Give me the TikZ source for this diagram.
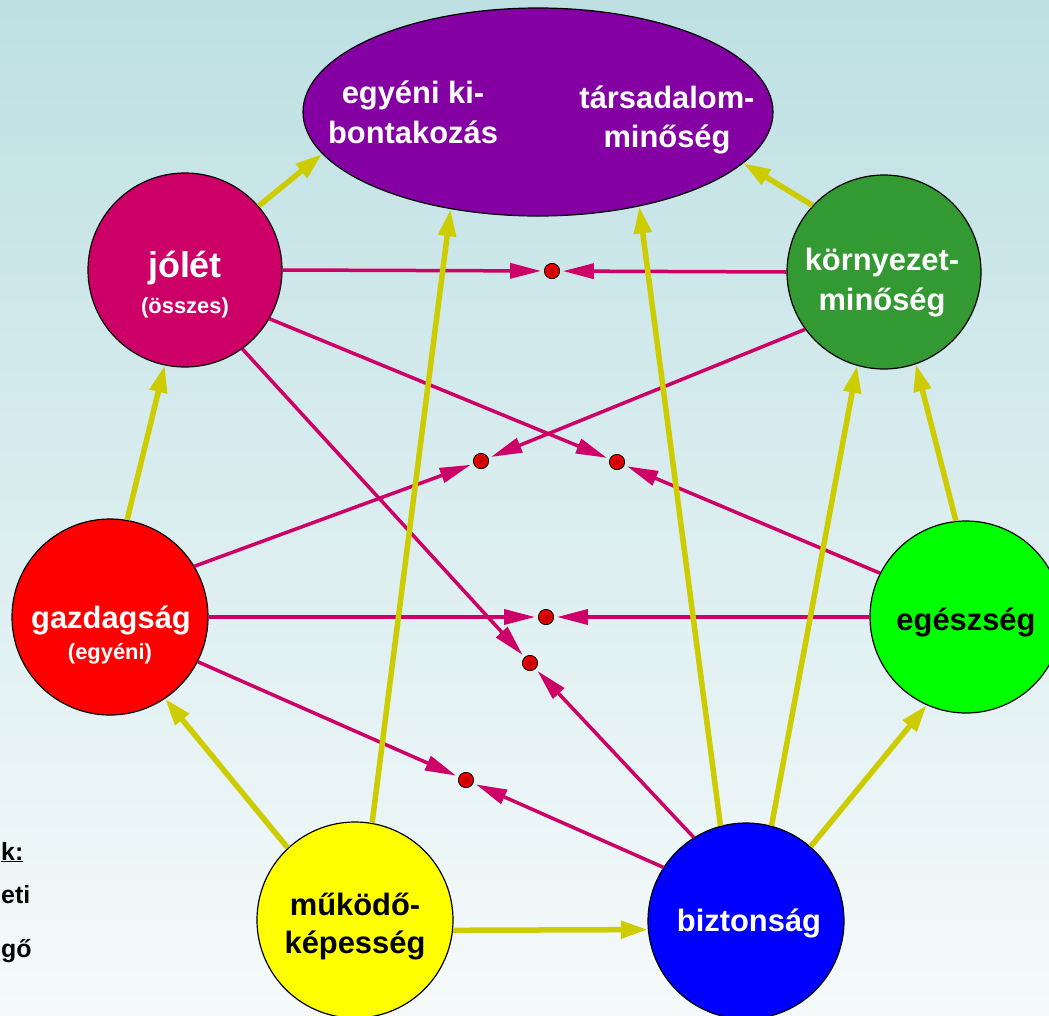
\documentclass[tikz,border=0pt]{standalone}
\usepackage{fontspec}
\setmainfont{Liberation Sans}
\usetikzlibrary{arrows.meta,shapes.geometric}
\definecolor{bgtop}{HTML}{BEE0E3}
\definecolor{bgbot}{HTML}{F6FAFB}
\definecolor{cpurple}{HTML}{8400A2}
\definecolor{cjolet}{HTML}{CC0066}
\definecolor{ckorny}{HTML}{339933}
\definecolor{cgazd}{HTML}{FF0000}
\definecolor{cegesz}{HTML}{00FF00}
\definecolor{cmukod}{HTML}{FFFF00}
\definecolor{cbizt}{HTML}{0000FF}
\definecolor{clink}{HTML}{CC0066}
\definecolor{cyell}{HTML}{CCCC00}

\begin{document}
\begin{tikzpicture}[x=1bp,y=-1bp,
  disc/.style={circle,draw=black,line width=1.2bp,minimum size=#1,inner sep=0pt},
  goal/.style={ellipse,draw=black,line width=1.2bp,fill=cpurple,
    minimum width=470bp,minimum height=208bp,inner sep=0pt},
  yarrow/.style={draw=cyell,line width=5.5bp,-{Triangle[length=27bp,width=17bp]}},
  marrow/.style={draw=clink,line width=3.5bp,-{Triangle[length=31bp,width=15bp]},shorten >=3bp},
  meet/.style={circle,draw=black,line width=0.8bp,inner sep=0pt,minimum size=15bp,
    inner color=red!70!black,outer color=red},
  lbl/.style={anchor=base,inner sep=0pt,text=white,font=\bfseries\fontsize{31}{31}\selectfont},
  small/.style={lbl,font=\bfseries\fontsize{22}{22}\selectfont},
  legend/.style={anchor=base west,inner sep=0pt,font=\bfseries\fontsize{25}{25}\selectfont},
]
\useasboundingbox (0,0) rectangle (1049,1016);
\shade[top color=bgtop,bottom color=bgbot] (0,0) rectangle (1049,1016);

% goal ellipse and the six factors
\node[goal] (E) at (538,112) {};
\node[disc=194bp,fill=cjolet] (J) at (185,270) {};
\node[disc=194bp,fill=ckorny] (K) at (884,272) {};
\node[disc=196bp,fill=cgazd] (G) at (110,617) {};
\node[disc=192bp,fill=cegesz] (S) at (966,617) {};
\node[disc=196bp,fill=cmukod] (M) at (355,920) {};
\node[disc=196bp,fill=cbizt] (B) at (746,921) {};

% meeting points of the trade-offs
\node[meet] (d1) at (552,271) {};
\node[meet] (d2) at (481,461) {};
\node[meet] (d3) at (617,462) {};
\node[meet] (d4) at (546,617) {};
\node[meet] (d5) at (530,663) {};
\node[meet] (d6) at (466,780) {};

% trade-offs
\draw[marrow] (J.0) -- (d1);
\draw[marrow] (K.180) -- (d1);
\draw[marrow] (K.216) -- (d2);
\draw[marrow] (G.31.5) -- (d2);
\draw[marrow] (J.-30) -- (d3);
\draw[marrow] (S.153) -- (d3);
\draw[marrow] (G.0) -- (d4);
\draw[marrow] (S.180) -- (d4);
\draw[marrow] (J.-54) -- (d5);
\draw[marrow] (B.122) -- (d5);
\draw[marrow] (G.-27.3) -- (d6);
\draw[marrow] (B.147.4) -- (d6);

% supporting relations
\draw[yarrow] (J.41) -- (E.191);
\draw[yarrow] (K.137) -- (E.346.5);
\draw[yarrow] (G.80) -- (J.258.6);
\draw[yarrow] (M.133) -- (G.-56);
\draw[yarrow] (M.80) -- (E.228.7);
\draw[yarrow] (M.-6) -- (B.185);
\draw[yarrow] (B.105) -- (E.317);
\draw[yarrow] (B.75) -- (K.254);
\draw[yarrow] (B.49) -- (S.246);
\draw[yarrow] (S.96.5) -- (K.289);

% redraw the meeting points above the lines
\foreach \d in {d1,d2,d3,d4,d5,d6}{\node[meet] at (\d) {};}

% labels
\node[lbl] (t1) at (413,103) {egyéni ki-};
\node[lbl] (t2) at (413,143) {bontakozás};
\node[lbl] (t3) at (667,108) {társadalom-};
\node[lbl] (t4) at (667,147) {minőség};
\node[lbl,font=\bfseries\fontsize{36}{36}\selectfont] (t5) at (185,277) {jólét};
\node[small] (t6) at (185,313) {(összes)};
\node[lbl] (t7) at (882,270) {környezet-};
\node[lbl] (t8) at (882,310) {minőség};
\node[lbl] (t9) at (111,628) {gazdagság};
\node[small] (t10) at (110,659) {(egyéni)};
\node[lbl,text=black] (t11) at (966,630) {egészség};
\node[lbl,text=black] (t12) at (355,915) {működő-};
\node[lbl,text=black] (t13) at (355,953) {képesség};
\node[lbl] (t14) at (749,931) {biztonság};

% legend fragments at the left edge
\node[legend] (g1) at (1,860) {\underline{k:}};
\node[legend] (g2) at (1,903) {eti};
\node[legend] (g3) at (1,957) {gő};
\end{tikzpicture}
\end{document}
